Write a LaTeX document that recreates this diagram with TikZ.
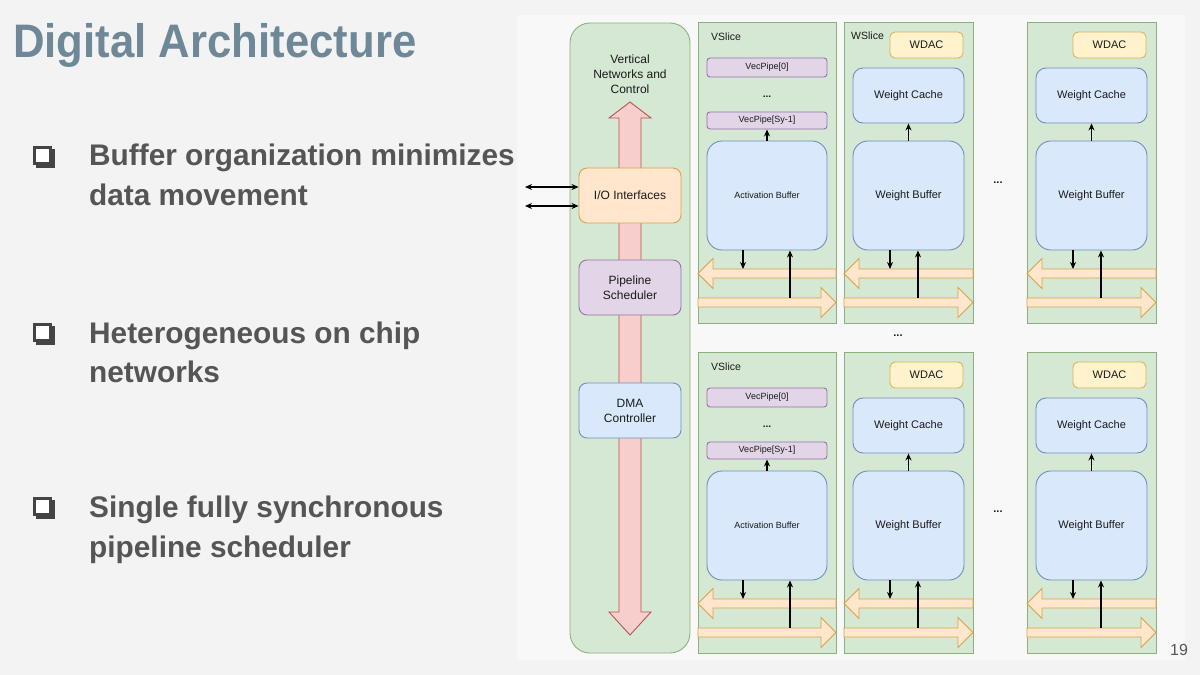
\documentclass[tikz,border=0pt]{standalone}
\usepackage{fontspec}
\setmainfont{Liberation Sans}
\newfontfamily\titlefont[FakeStretch=0.93]{Liberation Sans}
\usetikzlibrary{arrows.meta}
\definecolor{bgc}{HTML}{F3F3F3}
\definecolor{panelc}{HTML}{F8F8F8}
\definecolor{titlec}{HTML}{6E8898}
\definecolor{bodyc}{HTML}{555555}
\definecolor{bulc}{HTML}{444444}
\definecolor{txtc}{HTML}{1A1A1A}
\definecolor{gfill}{HTML}{D5E8D4}
\definecolor{gdraw}{HTML}{8DB07A}
\definecolor{bfill}{HTML}{DAE8FC}
\definecolor{bdraw}{HTML}{6C8EBF}
\definecolor{pfill}{HTML}{E1D5E7}
\definecolor{pdraw}{HTML}{9673A6}
\definecolor{ofill}{HTML}{FFE6CC}
\definecolor{odraw}{HTML}{D9A34A}
\definecolor{yfill}{HTML}{FFF2CC}
\definecolor{ydraw}{HTML}{D6B656}
\definecolor{rfill}{HTML}{F8CECC}
\definecolor{rdraw}{HTML}{B85450}
\tikzset{
  dbox/.style={draw, line width=0.9pt, inner sep=0pt, text=txtc, align=center, font=\fontsize{12}{15}\selectfont},
  greenbox/.style={dbox, fill=gfill, draw=gdraw},
  bluebox/.style={dbox, fill=bfill, draw=bdraw},
  purplebox/.style={dbox, fill=pfill, draw=pdraw, rounded corners=3pt, font=\fontsize{9}{10}\selectfont},
  orangebox/.style={dbox, fill=ofill, draw=odraw},
  yellowbox/.style={dbox, fill=yfill, draw=ydraw, rounded corners=5pt, font=\fontsize{11}{13}\selectfont},
  slicelbl/.style={anchor=base west, inner sep=0pt, text=txtc, font=\fontsize{10.5}{12}\selectfont},
  dotlbl/.style={inner sep=0pt, text=txtc, font=\bfseries\fontsize{11}{12}\selectfont},
  arr/.style={-{Stealth[length=7pt,width=6pt]}, line width=1.1pt, black},
  darr/.style={{Stealth[length=7pt,width=6pt]}-{Stealth[length=7pt,width=6pt]}, line width=1.1pt, black},
  flexo/.style={fill=ofill, draw=odraw, line width=0.9pt, line join=miter},
  flexr/.style={fill=rfill, draw=rdraw, line width=0.9pt, line join=miter},
  bodytext/.style={anchor=base west, inner sep=0pt, text=bodyc, font=\bfseries\fontsize{29.8}{36}\selectfont},
  titletext/.style={anchor=base west, inner sep=0pt, text=titlec, font=\titlefont\bfseries\fontsize{47}{56}\selectfont},
}
% box node from corners: style, x1, y1, x2, y2, name, text
\newcommand\bx[7]{\node[#1, minimum width={(#4)-(#2)}, minimum height={(#5)-(#3)}] (#6) at ({(#2+#4)/2},{(#3+#5)/2+1}) {#7};}
\newcommand\bulmark[1]{%
  \fill[bulc] (36,#1+3) rectangle (55,#1+22);
  \draw[bulc, line width=2.6pt, fill=white] (34.3,#1+1.3) rectangle (50.2,#1+17.2);}
\newcommand\flexpair[4]{%
  \draw[flexo] (#1,#3) -- (#1+15,#3-15) -- (#1+15,#3-4.5) -- (#2,#3-4.5) -- (#2,#3+4.5) -- (#1+15,#3+4.5) -- (#1+15,#3+15) -- cycle;
  \draw[flexo] (#2,#4) -- (#2-15,#4-15) -- (#2-15,#4-4.5) -- (#1,#4-4.5) -- (#1,#4+4.5) -- (#2-15,#4+4.5) -- (#2-15,#4+15) -- cycle;}
% VSlice: #1 name, #2 y offset
\newcommand\vslice[2]{%
  \begin{scope}[shift={(0,#2)}]
    \bx{greenbox}{698}{21}{836}{322}{#1}{}
    \node[slicelbl] (#1l) at (711,40) {VSlice};
    \bx{purplebox}{707}{57}{827}{76}{#1p0}{VecPipe[0]}
    \node[dotlbl, font=\bfseries\fontsize{10}{12}\selectfont] (#1d) at (767,97) {...};
    \bx{purplebox}{707}{111}{827}{128}{#1p1}{VecPipe[Sy-1]}
    \bx{bluebox, rounded corners=15pt, font=\fontsize{9}{10}\selectfont}{707}{140}{827}{249}{#1ab}{Activation Buffer}
    \draw[arr] (#1ab.north) -- (#1p1.south);
    \flexpair{698}{836}{273.5}{302.5}
    \coordinate (#1la) at (743,269);
    \coordinate (#1ra) at (790,298);
    \draw[arr] (#1ab.south -| #1la) -- (#1la);
    \draw[arr] (#1ra) -- (#1ra |- #1ab.south);
  \end{scope}}
% WSlice: #1 name, #2 x offset, #3 y offset
\newcommand\wslice[3]{%
  \begin{scope}[shift={(#2,#3)}]
    \bx{greenbox}{844}{21}{973}{322}{#1}{}
    \bx{yellowbox}{890}{31}{963}{57}{#1w}{WDAC}
    \bx{bluebox, rounded corners=10pt, font=\fontsize{11}{13}\selectfont}{853}{67}{964}{122}{#1c}{Weight Cache}
    \bx{bluebox, rounded corners=15pt, font=\fontsize{11}{13}\selectfont}{853}{140}{964}{249}{#1b}{Weight Buffer}
    \draw[arr] (#1b.north) -- (#1c.south);
    \flexpair{844}{973}{273.5}{302.5}
    \coordinate (#1la) at (890,269);
    \coordinate (#1ra) at (918,298);
    \draw[arr] (#1b.south -| #1la) -- (#1la);
    \draw[arr] (#1ra) -- (#1ra |- #1b.south);
  \end{scope}}
\begin{document}
\begin{tikzpicture}[x=1pt,y=-1pt]
\useasboundingbox (0,0) rectangle (1200,675);
\fill[bgc] (0,0) rectangle (1200,675);
\fill[panelc] (517,15) rectangle (1185,660);
% title and bullets
\node[titletext] (title) at (13,57) {Digital Architecture};
\bulmark{146}
\node[bodytext] (b1a) at (89,165) {Buffer organization minimizes};
\node[bodytext] (b1b) at (89,205) {data movement};
\bulmark{323}
\node[bodytext] (b2a) at (89,343) {Heterogeneous on chip};
\node[bodytext] (b2b) at (89,382) {networks};
\bulmark{497}
\node[bodytext] (b3a) at (89,517) {Single fully synchronous};
\node[bodytext] (b3b) at (89,557) {pipeline scheduler};
\node[anchor=base west, inner sep=0pt, text=bodyc, font=\fontsize{16}{18}\selectfont] (pnum) at (1170,655) {19};
% vertical column
\bx{greenbox, rounded corners=20pt}{570}{22}{690}{652}{vcol}{}
\node[inner sep=0pt, text=txtc, align=center, font=\fontsize{12}{15}\selectfont] (vtitle) at (630,74) {Vertical\\Networks and\\Control};
\draw[flexr] (630,102) -- (651,118) -- (641,118) -- (641,612) -- (651,612) -- (630,635) -- (609,612) -- (619,612) -- (619,118) -- (609,118) -- cycle;
\bx{orangebox, rounded corners=8pt}{579}{167}{681}{222}{io}{I/O Interfaces}
\bx{purplebox, rounded corners=8pt, font=\fontsize{12}{15}\selectfont}{579}{259}{681}{314}{ps}{Pipeline\\Scheduler}
\bx{bluebox, rounded corners=8pt}{579}{382}{681}{437}{dma}{DMA\\Controller}
\coordinate (ext1) at (525,187);
\coordinate (ext2) at (525,206);
\draw[darr] (ext1) -- (ext1 -| io.west);
\draw[darr] (ext2) -- (ext2 -| io.west);
% slices
\vslice{vs1}{0}
\wslice{ws1}{0}{0}
\wslice{ws2}{183}{0}
\node[slicelbl] (ws1l) at (851,39) {WSlice};
\vslice{vs2}{330}
\wslice{ws3}{0}{330}
\wslice{ws4}{183}{330}
\node[dotlbl] (dots1) at (998,183) {...};
\node[dotlbl] (dots2) at (898,336) {...};
\node[dotlbl] (dots3) at (998,512) {...};
\end{tikzpicture}
\end{document}
